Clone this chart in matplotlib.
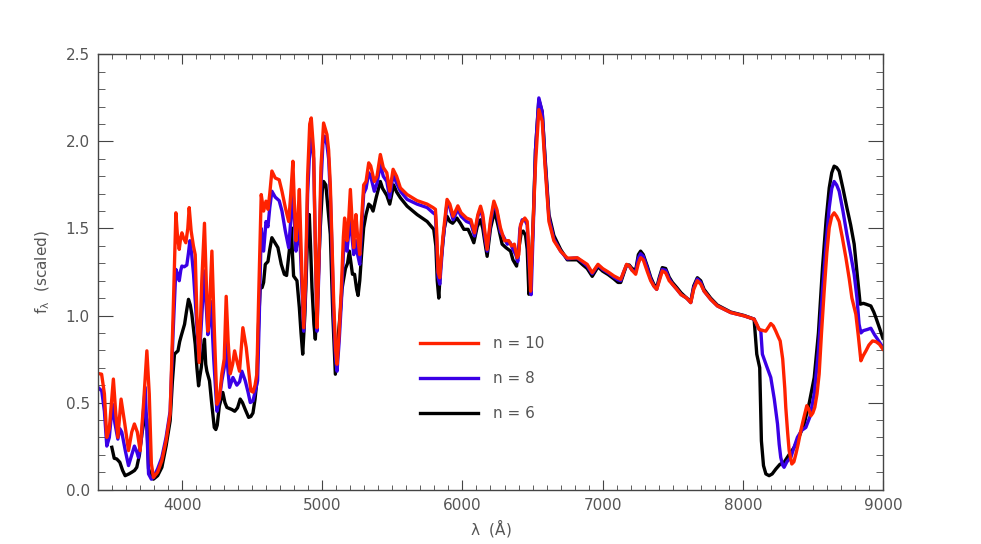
import numpy as np
import matplotlib
matplotlib.use("Agg")
import matplotlib.pyplot as plt
from matplotlib.ticker import MultipleLocator, FormatStrFormatter

plt.rcParams["mathtext.default"] = "regular"

"""
Data (read off the reference figure)
"""
wl_n10 = [3400, 3425, 3445, 3462, 3480, 3509, 3525, 3541, 3564, 3590, 3617, 3640, 3659, 3680, 3700,
          3725, 3748, 3765, 3780, 3795, 3825, 3855, 3885, 3914, 3935, 3955, 3967, 3979, 3990, 3998,
          4012, 4026, 4040, 4050, 4064, 4080, 4093, 4105, 4121, 4140, 4159, 4172, 4183, 4198, 4212,
          4230, 4248, 4265, 4283, 4300, 4314, 4328, 4343, 4360, 4374, 4390, 4409, 4433, 4457, 4475,
          4490, 4505, 4520, 4533, 4545, 4564, 4581, 4598, 4612, 4625, 4640, 4664, 4692, 4712, 4736,
          4760, 4775, 4790, 4800, 4812, 4825, 4836, 4850, 4867, 4880, 4895, 4910, 4921, 4938, 4950,
          4962, 4975, 4990, 5009, 5033, 5045, 5057, 5070, 5081, 5095, 5105, 5120, 5136, 5150, 5159,
          5168, 5176, 5188, 5200, 5212, 5224, 5232, 5240, 5252, 5267, 5280, 5295, 5312, 5331, 5345,
          5371, 5390, 5414, 5435, 5460, 5481, 5505, 5530, 5557, 5605, 5676, 5748, 5790, 5807, 5815,
          5826, 5838, 5860, 5890, 5910, 5933, 5950, 5967, 5990, 6029, 6060, 6086, 6110, 6129, 6145,
          6160, 6176, 6200, 6224, 6245, 6271, 6300, 6331, 6350, 6370, 6390, 6402, 6414, 6426, 6445,
          6462, 6475, 6486, 6500, 6521, 6545, 6569, 6590, 6617, 6652, 6700, 6748, 6790, 6819, 6860,
          6890, 6926, 6967, 7000, 7040, 7081, 7110, 7129, 7150, 7171, 7190, 7210, 7236, 7255, 7271,
          7290, 7320, 7343, 7365, 7386, 7405, 7426, 7450, 7475, 7498, 7530, 7560, 7600, 7629, 7650,
          7676, 7700, 7724, 7771, 7819, 7914, 8010, 8081, 8100, 8117, 8140, 8164, 8185, 8200, 8218,
          8236, 8252, 8267, 8285, 8300, 8307, 8320, 8331, 8350, 8365, 8379, 8395, 8414, 8435, 8457,
          8472, 8486, 8500, 8514, 8530, 8545, 8562, 8581, 8600, 8617, 8635, 8652, 8670, 8688, 8710,
          8736, 8760, 8779, 8807, 8825, 8843, 8860, 8879, 8900, 8926, 8950, 8975, 9000]
f_n10 = [0.667, 0.663, 0.55, 0.30, 0.35, 0.635, 0.45, 0.30, 0.52, 0.38, 0.224, 0.33, 0.377, 0.33, 0.224,
         0.50, 0.797, 0.55, 0.15, 0.07, 0.10, 0.166, 0.28, 0.435, 1.0, 1.59, 1.45, 1.38, 1.45, 1.475,
         1.44, 1.418, 1.50, 1.62, 1.485, 1.40, 1.35, 1.0, 0.73, 1.2, 1.53, 1.2, 0.91, 1.1, 1.37,
         0.9, 0.49, 0.52, 0.665, 0.75, 1.11, 0.85, 0.665, 0.72, 0.797, 0.74, 0.68, 0.93, 0.816, 0.68,
         0.567, 0.56, 0.60, 0.665, 1.084, 1.695, 1.60, 1.657, 1.61, 1.70, 1.83, 1.79, 1.78, 1.714, 1.62,
         1.54, 1.70, 1.886, 1.65, 1.43, 1.55, 1.724, 1.35, 0.93, 1.20, 1.80, 2.10, 2.135, 1.944, 1.40,
         0.93, 1.30, 1.85, 2.106, 2.04, 1.95, 1.75, 1.40, 1.084, 0.80, 0.72, 0.90, 1.16, 1.45, 1.56,
         1.50, 1.43, 1.55, 1.724, 1.55, 1.39, 1.50, 1.58, 1.45, 1.35, 1.55, 1.75, 1.77, 1.877, 1.86,
         1.77, 1.80, 1.925, 1.85, 1.82, 1.714, 1.84, 1.80, 1.733, 1.695, 1.66, 1.64, 1.62, 1.61, 1.50,
         1.25, 1.217, 1.45, 1.667, 1.64, 1.57, 1.60, 1.63, 1.59, 1.56, 1.55, 1.475, 1.58, 1.628, 1.58,
         1.48, 1.38, 1.55, 1.657, 1.61, 1.504, 1.43, 1.43, 1.40, 1.41, 1.332, 1.35, 1.52, 1.54, 1.56,
         1.54, 1.35, 1.14, 1.45, 1.867, 2.183, 2.116, 1.85, 1.54, 1.43, 1.37, 1.33, 1.33, 1.332, 1.31,
         1.294, 1.246, 1.294, 1.27, 1.25, 1.227, 1.215, 1.208, 1.25, 1.294, 1.285, 1.26, 1.237, 1.30, 1.332,
         1.32, 1.25, 1.20, 1.17, 1.15, 1.20, 1.256, 1.245, 1.20, 1.18, 1.15, 1.12, 1.10, 1.074, 1.15,
         1.20, 1.18, 1.14, 1.093, 1.055, 1.017, 0.998, 0.979, 0.95, 0.92, 0.915, 0.91, 0.935, 0.954, 0.94,
         0.91, 0.88, 0.854, 0.75, 0.58, 0.472, 0.33, 0.224, 0.147, 0.16, 0.204, 0.26, 0.338, 0.41, 0.482,
         0.46, 0.424, 0.44, 0.472, 0.55, 0.663, 0.90, 1.14, 1.36, 1.504, 1.57, 1.59, 1.57, 1.54, 1.45,
         1.332, 1.21, 1.10, 1.007, 0.88, 0.74, 0.77, 0.797, 0.83, 0.854, 0.85, 0.835, 0.807]

wl_n8 = [3400, 3426, 3445, 3462, 3480, 3502, 3520, 3541, 3555, 3569, 3595, 3617, 3640, 3659, 3675,
         3688, 3710, 3736, 3748, 3760, 3780, 3795, 3825, 3855, 3885, 3914, 3935, 3955, 3967, 3979,
         3990, 3998, 4015, 4033, 4045, 4055, 4068, 4081, 4100, 4121, 4140, 4159, 4172, 4183, 4195,
         4205, 4225, 4248, 4265, 4283, 4300, 4312, 4325, 4338, 4362, 4390, 4410, 4426, 4450, 4470,
         4486, 4505, 4520, 4538, 4550, 4564, 4581, 4598, 4612, 4625, 4640, 4664, 4692, 4712, 4736,
         4760, 4775, 4790, 4800, 4812, 4825, 4836, 4850, 4867, 4880, 4895, 4910, 4921, 4938, 4950,
         4962, 4975, 4990, 5005, 5017, 5033, 5045, 5057, 5070, 5081, 5095, 5105, 5120, 5136, 5150,
         5159, 5168, 5176, 5188, 5200, 5212, 5224, 5232, 5240, 5252, 5267, 5280, 5295, 5312, 5331,
         5345, 5371, 5390, 5414, 5435, 5460, 5481, 5505, 5530, 5557, 5605, 5676, 5748, 5790, 5807,
         5815, 5826, 5838, 5860, 5890, 5910, 5933, 5950, 5967, 5990, 6029, 6060, 6086, 6110, 6129,
         6145, 6160, 6176, 6200, 6224, 6245, 6271, 6295, 6320, 6340, 6360, 6380, 6395, 6410, 6426,
         6445, 6462, 6475, 6490, 6505, 6521, 6545, 6569, 6590, 6617, 6652, 6700, 6748, 6790, 6819,
         6860, 6890, 6926, 6967, 7000, 7040, 7081, 7110, 7129, 7150, 7171, 7190, 7210, 7236, 7255,
         7271, 7290, 7320, 7343, 7365, 7386, 7405, 7426, 7450, 7475, 7498, 7530, 7560, 7600, 7629,
         7650, 7676, 7700, 7724, 7771, 7819, 7914, 8010, 8081, 8093, 8110, 8129, 8140, 8170, 8200,
         8225, 8248, 8260, 8271, 8285, 8295, 8315, 8343, 8365, 8390, 8420, 8450, 8480, 8510, 8540,
         8569, 8595, 8617, 8635, 8652, 8670, 8688, 8715, 8743, 8770, 8795, 8815, 8830, 8843, 8860,
         8890, 8914, 8940, 8962, 8985, 9000]
f_n8 = [0.587, 0.567, 0.45, 0.25, 0.30, 0.49, 0.38, 0.29, 0.35, 0.33, 0.22, 0.138, 0.20, 0.25, 0.22,
        0.185, 0.30, 0.587, 0.35, 0.09, 0.06, 0.07, 0.12, 0.185, 0.30, 0.45, 0.90, 1.265, 1.24, 1.20,
        1.26, 1.284, 1.28, 1.29, 1.36, 1.43, 1.35, 1.237, 1.0, 0.74, 1.0, 1.256, 1.05, 0.89, 0.98,
        1.08, 0.75, 0.45, 0.52, 0.625, 0.70, 0.873, 0.70, 0.587, 0.644, 0.60, 0.62, 0.68, 0.625, 0.56,
        0.50, 0.51, 0.56, 0.625, 0.99, 1.50, 1.37, 1.54, 1.51, 1.62, 1.714, 1.68, 1.66, 1.60, 1.485,
        1.39, 1.55, 1.75, 1.55, 1.37, 1.45, 1.525, 1.25, 0.91, 1.15, 1.70, 1.95, 2.02, 1.90, 1.40,
        0.91, 1.25, 1.75, 2.00, 2.03, 1.98, 1.90, 1.70, 1.35, 0.99, 0.75, 0.68, 0.85, 1.08, 1.35,
        1.43, 1.40, 1.37, 1.47, 1.56, 1.45, 1.35, 1.40, 1.43, 1.35, 1.294, 1.50, 1.70, 1.73, 1.82,
        1.80, 1.714, 1.76, 1.867, 1.80, 1.77, 1.676, 1.81, 1.76, 1.714, 1.667, 1.64, 1.62, 1.59, 1.58,
        1.45, 1.22, 1.18, 1.42, 1.648, 1.62, 1.55, 1.58, 1.61, 1.57, 1.54, 1.53, 1.457, 1.57, 1.61,
        1.56, 1.45, 1.37, 1.53, 1.64, 1.60, 1.48, 1.45, 1.41, 1.42, 1.38, 1.35, 1.31, 1.50, 1.55,
        1.55, 1.52, 1.30, 1.12, 1.50, 1.95, 2.25, 2.17, 1.88, 1.56, 1.44, 1.37, 1.325, 1.33, 1.33,
        1.305, 1.285, 1.24, 1.29, 1.265, 1.245, 1.22, 1.205, 1.20, 1.25, 1.29, 1.285, 1.26, 1.25, 1.33,
        1.355, 1.34, 1.27, 1.21, 1.17, 1.15, 1.21, 1.265, 1.26, 1.21, 1.18, 1.15, 1.12, 1.10, 1.074,
        1.16, 1.21, 1.19, 1.14, 1.093, 1.055, 1.017, 0.998, 0.979, 0.96, 0.93, 0.91, 0.778, 0.71, 0.644,
        0.52, 0.377, 0.26, 0.185, 0.14, 0.128, 0.16, 0.185, 0.24, 0.30, 0.34, 0.357, 0.42, 0.55, 0.80,
        1.14, 1.42, 1.62, 1.73, 1.77, 1.75, 1.714, 1.60, 1.466, 1.35, 1.237, 1.10, 0.95, 0.90, 0.913,
        0.92, 0.927, 0.89, 0.864, 0.835, 0.816]

wl_n6 = [3498, 3515, 3533, 3555, 3575, 3593, 3620, 3641, 3660, 3676, 3695, 3712, 3725, 3736, 3748,
         3760, 3780, 3795, 3825, 3855, 3885, 3914, 3930, 3945, 3960, 3970, 3982, 3993, 4017, 4030,
         4045, 4058, 4069, 4080, 4093, 4105, 4117, 4126, 4136, 4148, 4159, 4168, 4176, 4195, 4210,
         4229, 4240, 4250, 4265, 4290, 4305, 4319, 4340, 4354, 4375, 4395, 4414, 4430, 4450, 4474,
         4490, 4505, 4520, 4533, 4545, 4557, 4570, 4581, 4593, 4612, 4625, 4640, 4660, 4683, 4707,
         4729, 4745, 4764, 4779, 4787, 4795, 4819, 4836, 4848, 4860, 4875, 4895, 4907, 4916, 4926,
         4940, 4950, 4965, 4985, 5000, 5009, 5025, 5040, 5057, 5075, 5093, 5110, 5129, 5140, 5150,
         5165, 5180, 5193, 5205, 5215, 5230, 5245, 5255, 5267, 5280, 5295, 5312, 5331, 5345, 5362,
         5385, 5414, 5430, 5460, 5481, 5509, 5530, 5557, 5605, 5676, 5748, 5795, 5810, 5820, 5831,
         5845, 5870, 5890, 5910, 5930, 5960, 5985, 6010, 6040, 6060, 6081, 6105, 6129, 6145, 6160,
         6176, 6200, 6229, 6250, 6283, 6310, 6343, 6360, 6386, 6405, 6419, 6433, 6450, 6462, 6474,
         6490, 6505, 6521, 6545, 6569, 6590, 6617, 6652, 6700, 6748, 6790, 6819, 6860, 6890, 6926,
         6967, 7000, 7040, 7081, 7110, 7129, 7150, 7171, 7190, 7210, 7236, 7255, 7271, 7290, 7320,
         7343, 7365, 7386, 7405, 7426, 7450, 7475, 7498, 7530, 7560, 7600, 7629, 7650, 7676, 7700,
         7724, 7771, 7819, 7914, 8010, 8081, 8100, 8121, 8133, 8148, 8165, 8188, 8210, 8236, 8265,
         8295, 8330, 8367, 8400, 8438, 8475, 8510, 8540, 8569, 8595, 8617, 8635, 8652, 8670, 8688,
         8715, 8743, 8770, 8795, 8815, 8838, 8860, 8880, 8914, 8935, 8950, 8975, 9000]
f_n6 = [0.243, 0.18, 0.176, 0.157, 0.11, 0.08, 0.09, 0.10, 0.11, 0.128, 0.20, 0.32, 0.38, 0.45, 0.40,
        0.12, 0.07, 0.06, 0.08, 0.128, 0.25, 0.395, 0.62, 0.778, 0.79, 0.797, 0.85, 0.883, 0.95, 1.02,
        1.093, 1.06, 1.007, 0.93, 0.835, 0.70, 0.596, 0.65, 0.70, 0.80, 0.864, 0.72, 0.68, 0.625, 0.50,
        0.357, 0.345, 0.37, 0.48, 0.558, 0.50, 0.472, 0.465, 0.46, 0.45, 0.47, 0.52, 0.50, 0.46, 0.415,
        0.42, 0.44, 0.52, 0.625, 0.95, 1.17, 1.16, 1.19, 1.294, 1.31, 1.38, 1.447, 1.42, 1.39, 1.294,
        1.237, 1.23, 1.37, 1.504, 1.35, 1.227, 1.20, 1.045, 0.90, 0.778, 1.00, 1.45, 1.58, 1.40, 1.16,
        0.95, 0.864, 1.10, 1.50, 1.72, 1.77, 1.75, 1.62, 1.466, 1.00, 0.663, 0.85, 1.026, 1.15, 1.20,
        1.27, 1.30, 1.37, 1.30, 1.237, 1.237, 1.15, 1.115, 1.20, 1.35, 1.504, 1.58, 1.64, 1.63, 1.60,
        1.68, 1.77, 1.73, 1.69, 1.64, 1.75, 1.71, 1.676, 1.628, 1.58, 1.54, 1.495, 1.40, 1.20, 1.10,
        1.30, 1.50, 1.57, 1.54, 1.53, 1.56, 1.53, 1.495, 1.495, 1.46, 1.418, 1.51, 1.55, 1.50, 1.42,
        1.34, 1.50, 1.60, 1.53, 1.41, 1.39, 1.37, 1.32, 1.284, 1.40, 1.475, 1.485, 1.46, 1.38, 1.122,
        1.25, 1.55, 1.95, 2.24, 2.17, 1.90, 1.58, 1.46, 1.38, 1.32, 1.32, 1.32, 1.29, 1.27, 1.225,
        1.28, 1.255, 1.235, 1.21, 1.19, 1.19, 1.24, 1.29, 1.29, 1.27, 1.26, 1.35, 1.37, 1.35, 1.28,
        1.22, 1.18, 1.16, 1.22, 1.275, 1.27, 1.22, 1.19, 1.16, 1.13, 1.10, 1.08, 1.17, 1.217, 1.20,
        1.15, 1.10, 1.06, 1.02, 1.00, 0.979, 0.778, 0.70, 0.28, 0.138, 0.09, 0.08, 0.09, 0.118, 0.145,
        0.157, 0.20, 0.243, 0.30, 0.377, 0.50, 0.644, 0.90, 1.275, 1.55, 1.733, 1.82, 1.858, 1.85, 1.829,
        1.73, 1.62, 1.52, 1.41, 1.25, 1.065, 1.07, 1.065, 1.055, 1.02, 0.988, 0.93, 0.87]

labels = ["n = 10", "n = 8", "n = 6"]
colors = ["#ff2200", "#3a00e6", "black"]

"""
Plot
"""
grey = "#555555"
fig = plt.figure(figsize=(9.81, 5.44), dpi=100)
ax = fig.add_axes([0.1, 0.1, 0.8, 0.8])

ax.plot(wl_n6, f_n6, color=colors[2], lw=2.4, label=labels[2])
ax.plot(wl_n8, f_n8, color=colors[1], lw=2.4, label=labels[1])
ax.plot(wl_n10, f_n10, color=colors[0], lw=2.4, label=labels[0])

ax.set_xlim(3400, 9000)
ax.set_ylim(0, 2.5)

ax.xaxis.set_major_locator(MultipleLocator(1000))
ax.xaxis.set_minor_locator(MultipleLocator(100))
ax.yaxis.set_major_locator(MultipleLocator(0.5))
ax.yaxis.set_minor_locator(MultipleLocator(0.1))
ax.yaxis.set_major_formatter(FormatStrFormatter("%.1f"))

ax.tick_params(which="both", direction="in", top=True, right=True,
               colors="#444444", labelcolor=grey, labelsize=11)
ax.tick_params(axis="x", which="major", length=7, pad=6)
ax.tick_params(axis="x", which="minor", length=3.5)
ax.tick_params(axis="y", which="major", length=11, pad=6)
ax.tick_params(axis="y", which="minor", length=5)
for s in ax.spines.values():
    s.set_color("#444444")
    s.set_linewidth(1.0)

ax.set_xlabel(r"$\lambda\ \ (\AA)$", color=grey, fontsize=11, labelpad=3)
ax.set_ylabel(r"$f_\lambda\ \ (scaled)$", color=grey, fontsize=11, labelpad=10)

h, l = ax.get_legend_handles_labels()
leg = ax.legend(h[::-1], l[::-1], loc="upper left", bbox_to_anchor=(0.41, 0.352),
                frameon=False, fontsize=11, handlelength=3.8, handletextpad=1.0,
                labelspacing=1.3, borderaxespad=0, borderpad=0)
for t in leg.get_texts():
    t.set_color(grey)

fig.savefig("out.png", dpi=100)
